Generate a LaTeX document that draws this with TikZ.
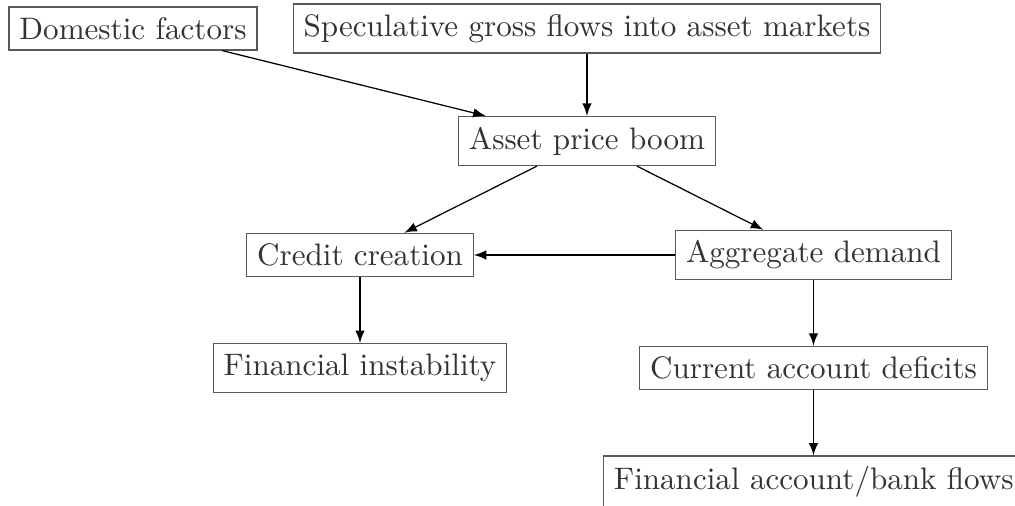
\documentclass[tikz,border=0pt]{standalone}
\usetikzlibrary{arrows}
\tikzset{box/.style={draw=black!65, rectangle, text=black!80}}
\begin{document}
\begin{tikzpicture}[x=0.0113cm,y=-0.0113cm,>=latex]
        \useasboundingbox (0,0) rectangle (1015,506);
        \node[box] (domestic)    at (133,28.5)  {Domestic factors};
        \node[box] (speculative) at (587,28.5)  {Speculative gross flows into asset markets};
        \node[box] (boom)        at (587,141)   {Asset price boom};
        \node[box] (credit)      at (360,255)   {Credit creation};
        \node[box] (demand)      at (813.5,255) {Aggregate demand};
        \node[box] (instability) at (360,368)   {Financial instability};
        \node[box] (deficits)    at (813.5,368) {Current account deficits};
        \node[box,anchor=west] (flows) at (603,482) {Financial account/bank flows};
        
        \draw[->] (domestic) -- (boom);
        \draw[->] (speculative) -- (boom);
        \draw[->] (boom) -- (credit);
        \draw[->] (boom) -- (demand);
        \draw[->] (demand) -- (credit);
        \draw[->] (credit) -- (instability);
        \draw[->] (demand) -- (deficits);
        \draw[->] (deficits) -- (deficits |- flows.north);
\end{tikzpicture}
\end{document}
